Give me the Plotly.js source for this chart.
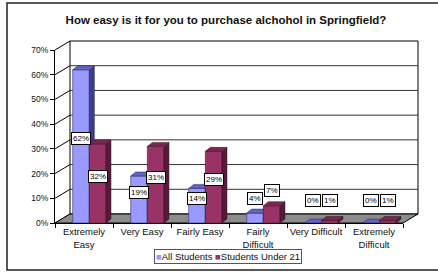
<!DOCTYPE html>
<html><head><meta charset="utf-8">
<script src="https://cdn.plot.ly/plotly-3.0.1.min.js"></script>
<style>html,body{margin:0;padding:0;background:#fff}#chart{width:438px;height:273px}</style>
</head><body><div id="chart"></div>
<script>
const categories = ['Extremely<br>Easy','Very Easy','Fairly Easy','Fairly<br>Difficult','Very Difficult','Extremely<br>Difficult'];
const allStudents = [0.62, 0.19, 0.14, 0.04, 0.00, 0.00];
const under21 = [0.32, 0.31, 0.29, 0.07, 0.01, 0.01];
const seriesNames = ['All Students', 'Students Under 21'];
const seriesColors = ['#9999ff', '#993366'];
const yTicks = [0, 0.1, 0.2, 0.3, 0.4, 0.5, 0.6, 0.7];

// geometry (styling)
const W = 438, H = 273, ML = 55, MR = 20, MT = 41, MB = 50;
const PW = W - ML - MR, PH = H - MT - MB;
const DEPTHX = 15, DEPTHY = 9;              // wall depth in px
const fx = (PW - DEPTHX) / PW, fy = (PH - DEPTHY) / PH;
const ox = DEPTHX / PW, oy = DEPTHY / PH;
const unitX = (PW - DEPTHX) / 6, unitY = (PH - DEPTHY) / 0.7;
const bdx = 5 / unitX, bdy = 4 / unitY;     // bar depth in data units
const barW = 0.287, offA = -0.195, offB = 0.092;

const idx = categories.map((_, i) => i);

function faces(vals, off) {
  const tx = [], ty = [], sx = [], sy = [];
  vals.forEach((v, i) => {
    const x0 = i + off, x1 = x0 + barW;
    tx.push(x0, x1, x1 + bdx, x0 + bdx, x0, null);
    ty.push(v, v, v + bdy, v + bdy, v, null);
    sx.push(x1, x1, x1 + bdx, x1 + bdx, x1, null);
    sy.push(0, v, v + bdy, bdy, 0, null);
  });
  return {tx, ty, sx, sy};
}
const fA = faces(allStudents, offA), fB = faces(under21, offB);

const traces = [
  {type:'bar', x: idx, y: allStudents, width: barW, offset: offA, name: seriesNames[0],
   marker:{color:seriesColors[0], line:{color:'#333366', width:0.6}}, xaxis:'x', yaxis:'y', hoverinfo:'skip', showlegend:false},
  {type:'scatter', x: fA.sx, y: fA.sy, fill:'toself', fillcolor:'#3d3d8f', mode:'lines',
   line:{color:'#222255', width:0.5}, showlegend:false, xaxis:'x', yaxis:'y', hoverinfo:'skip'},
  {type:'scatter', x: fA.tx, y: fA.ty, fill:'toself', fillcolor:'#6363c4', mode:'lines',
   line:{color:'#222255', width:0.5}, showlegend:false, xaxis:'x', yaxis:'y', hoverinfo:'skip'},
  {type:'bar', x: idx, y: under21, width: barW, offset: offB, name: seriesNames[1],
   marker:{color:seriesColors[1], line:{color:'#4a1530', width:0.6}}, xaxis:'x2', yaxis:'y2', hoverinfo:'skip', showlegend:false},
  {type:'scatter', x: fB.sx, y: fB.sy, fill:'toself', fillcolor:'#561b39', mode:'lines',
   line:{color:'#3a1026', width:0.5}, showlegend:false, xaxis:'x2', yaxis:'y2', hoverinfo:'skip'},
  {type:'scatter', x: fB.tx, y: fB.ty, fill:'toself', fillcolor:'#7a2850', mode:'lines',
   line:{color:'#3a1026', width:0.5}, showlegend:false, xaxis:'x2', yaxis:'y2', hoverinfo:'skip'}
];

function labelY(v) { return Math.max(v >= 0.1 ? v / 2 + 0.03 : v + 0.06, 0.09); }
const annotations = [];
[[allStudents, offA], [under21, offB]].forEach(([vals, off]) => {
  vals.forEach((v, i) => {
    annotations.push({x: i + off + barW / 2, y: labelY(v), xref:'x', yref:'y',
      text: Math.round(v * 100) + '%', showarrow:false,
      font:{family:'Liberation Sans, Arial', size:8, color:'#000'},
      bgcolor:'#fff', bordercolor:'#000', borderwidth:1, borderpad:1});
  });
});
// compact legend box
annotations.push({xref:'paper', yref:'paper', x:(228-ML)/PW, y:(PH+MT-256)/PH,
  xanchor:'center', yanchor:'middle', showarrow:false,
  text: seriesNames.map((n, i) => `<span style="color:${seriesColors[i]}">■</span>${n}`).join(' '),
  font:{family:'Liberation Sans, Arial', size:9.5, color:'#111'},
  bgcolor:'#fff', bordercolor:'#555', borderwidth:1, borderpad:1});

const shapes = [];
// outer frame
shapes.push({type:'rect', xref:'paper', yref:'paper', x0:(7-ML)/PW, x1:(W+5-ML)/PW,
  y0:(PH+MT-270)/PH, y1:(PH+MT-3)/PH, line:{color:'#222', width:1.5}, layer:'below'});
// back wall
shapes.push({type:'rect', xref:'paper', yref:'paper', x0:ox, x1:1, y0:oy, y1:1,
  fillcolor:'#fff', line:{color:'#000', width:1}, layer:'below'});
// wall gridlines + left wall diagonals
yTicks.forEach(v => {
  const yf = v / 0.7 * fy;
  if (v > 0 && v < 0.7) shapes.push({type:'line', xref:'paper', yref:'paper', x0:ox, x1:1,
    y0: yf + oy, y1: yf + oy, line:{color:'#333', width:1}, layer:'below'});
  shapes.push({type:'line', xref:'paper', yref:'paper', x0:0, x1:ox, y0:yf, y1:yf + oy,
    line:{color:'#000', width:1}, layer:'below'});
});
// floor
shapes.push({type:'path', xref:'paper', yref:'paper',
  path:`M 0,0 L ${fx},0 L 1,${oy} L ${ox},${oy} Z`,
  fillcolor:'#8c8c8c', line:{color:'#000', width:1}, layer:'below'});

const boundaries = [-0.5, 0.5, 1.5, 2.5, 3.5, 4.5, 5.5];
const layout = {
  width: W, height: H, margin:{l:ML, r:MR, t:MT, b:MB},
  paper_bgcolor:'#fff', plot_bgcolor:'rgba(0,0,0,0)',
  font:{family:'Liberation Sans, Arial', color:'#111'},
  title:{text:'How easy is it for you to purchase alchohol in Springfield?',
    font:{size:11.5, weight:'bold', color:'#111'}, x:226/W, xanchor:'center', xref:'container',
    y:1 - 20/H, yanchor:'middle', yref:'container'},
  barmode:'overlay',
  xaxis:{domain:[0, fx], range:[-0.5, 5.5], tickmode:'array', tickvals: idx, ticktext: categories,
    ticks:'', showgrid:false, zeroline:false, showline:true, linecolor:'#000', linewidth:1,
    tickfont:{size:9.5, color:'#111'}, fixedrange:true,
    minor:{tickmode:'array', tickvals: boundaries, ticks:'outside', ticklen:4, tickcolor:'#000', showgrid:false}},
  yaxis:{domain:[0, fy], range:[0, 0.7], tickmode:'array', tickvals: yTicks, tickformat:'.0%',
    ticks:'outside', ticklen:4, tickcolor:'#000', showgrid:false, zeroline:false,
    showline:true, linecolor:'#000', linewidth:1, tickfont:{size:8.5, color:'#111'}, fixedrange:true},
  xaxis2:{overlaying:'x', domain:[0, fx], range:[-0.5, 5.5], visible:false, fixedrange:true},
  yaxis2:{overlaying:'y', domain:[0, fy], range:[0, 0.7], visible:false, fixedrange:true},
  shapes, annotations, showlegend:false
};
Plotly.newPlot('chart', traces, layout, {displayModeBar:false, staticPlot:true});
</script></body></html>
